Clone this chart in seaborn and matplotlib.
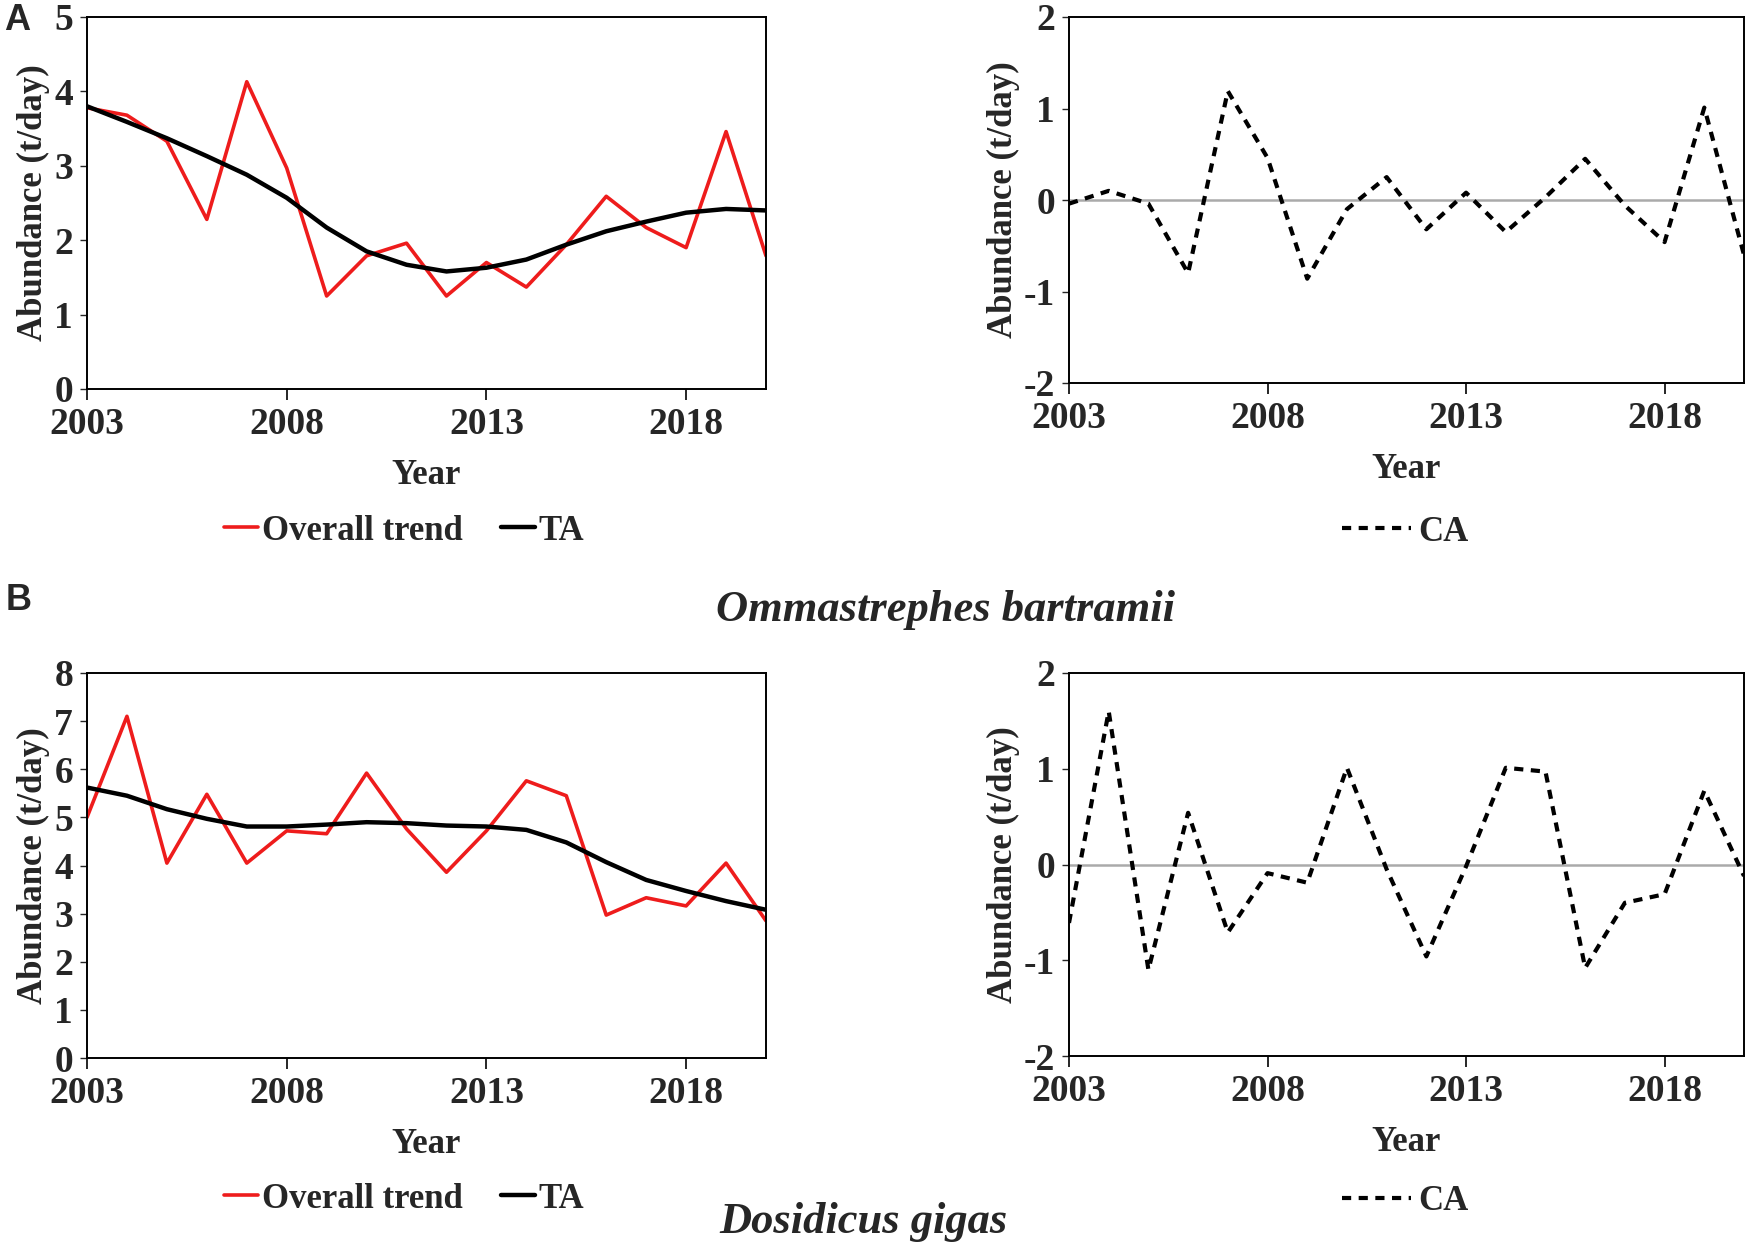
"""Overall trend / TA / CA decomposition of squid abundance, 2003-2020.

Save: out.png
"""
import pandas as pd

import matplotlib
matplotlib.use('Agg')
import matplotlib.pyplot as plt
import seaborn as sns

YEARS = list(range(2003, 2021))

# Ommastrephes bartramii
ob_overall = [3.78, 3.68, 3.33, 2.28, 4.13, 2.97, 1.25, 1.79, 1.96, 1.25,
              1.70, 1.37, 1.94, 2.59, 2.17, 1.90, 3.46, 1.79]
ob_ta = [3.80, 3.59, 3.37, 3.13, 2.88, 2.57, 2.17, 1.85, 1.67, 1.58,
         1.63, 1.74, 1.94, 2.12, 2.25, 2.37, 2.42, 2.40]
ob_ca = [-0.04, 0.10, -0.04, -0.80, 1.19, 0.46, -0.86, -0.10, 0.25, -0.32,
         0.08, -0.35, 0.03, 0.45, -0.06, -0.46, 1.01, -0.60]

# Dosidicus gigas
dg_overall = [5.00, 7.10, 4.05, 5.48, 4.05, 4.72, 4.66, 5.92, 4.76, 3.86,
              4.72, 5.76, 5.45, 2.97, 3.33, 3.16, 4.05, 2.85]
dg_ta = [5.62, 5.45, 5.17, 4.97, 4.81, 4.81, 4.85, 4.90, 4.88, 4.83,
         4.81, 4.74, 4.48, 4.07, 3.70, 3.47, 3.26, 3.08]
dg_ca = [-0.61, 1.60, -1.10, 0.54, -0.71, -0.09, -0.19, 1.01, -0.05, -0.96,
         -0.02, 1.01, 0.97, -1.08, -0.40, -0.31, 0.77, -0.12]

XTICKS = [2003, 2008, 2013, 2018]

sns.set_style('white')
plt.rcParams['font.family'] = ['Liberation Serif', 'DejaVu Serif']
plt.rcParams['font.weight'] = 'bold'
plt.rcParams['axes.unicode_minus'] = False

W, H = 1750, 1252
fig = plt.figure(figsize=(W / 100, H / 100), dpi=100)


def frac(x0, y0, x1, y1):
    # pixel box -> figure fraction rect
    return [x0 / W, 1 - y1 / H, (x1 - x0) / W, (y1 - y0) / H]


def style_axes(ax, ylim, yticks):
    ax.set_xlim(2003, 2020)
    ax.set_ylim(*ylim)
    ax.set_xticks(XTICKS)
    ax.set_xticklabels([str(t) for t in XTICKS])
    ax.set_yticks(yticks)
    ax.set_yticklabels([str(t) for t in yticks])
    for s in ax.spines.values():
        s.set_color('black')
        s.set_linewidth(1.4)
    ax.tick_params(axis='x', direction='out', length=8, width=1.4, labelsize=27, pad=5, bottom=True)
    ax.tick_params(axis='y', direction='out', length=5, width=1.0, labelsize=27, pad=5, left=True)
    ax.set_xlabel('Year', fontsize=25, fontweight='bold', labelpad=12)
    ax.set_ylabel('Abundance (t/day)', fontsize=25, fontweight='bold', labelpad=3)


def trend_panel(rect, overall, ta, ylim, yticks, leg_y):
    ax = fig.add_axes(rect)
    df = pd.DataFrame({'Year': YEARS, 'Overall trend': overall, 'TA': ta})
    sns.lineplot(data=df, x='Year', y='Overall trend', color='#ee1c1c', lw=2.6,
                 ax=ax, label='Overall trend')
    sns.lineplot(data=df, x='Year', y='TA', color='black', lw=3.2, ax=ax, label='TA')
    style_axes(ax, ylim, yticks)
    ax.legend(loc='center', bbox_to_anchor=(404 / W, 1 - leg_y / H),
              bbox_transform=fig.transFigure, ncol=2, frameon=False,
              handlelength=1.0, handletextpad=0.1, columnspacing=1.1,
              prop={'size': 25, 'weight': 'bold'})
    return ax


def ca_panel(rect, ca, yticks, leg_y):
    ax = fig.add_axes(rect)
    ax.axhline(0, color='#aaaaaa', lw=1.8, zorder=1)
    df = pd.DataFrame({'Year': YEARS, 'CA': ca})
    sns.lineplot(data=df, x='Year', y='CA', color='black', lw=3.0, ax=ax, label='CA')
    ax.lines[-1].set_dashes((2.2, 1.8))
    style_axes(ax, (-2, 2), yticks)
    ax.legend(loc='center', bbox_to_anchor=(1405 / W, 1 - leg_y / H),
              bbox_transform=fig.transFigure, ncol=1, frameon=False,
              handlelength=2.0, handletextpad=0.2,
              prop={'size': 25, 'weight': 'bold'})
    return ax


trend_panel(frac(87, 17, 766, 389), ob_overall, ob_ta, (0, 5), [0, 1, 2, 3, 4, 5], 531)
ca_panel(frac(1069, 17, 1744, 383), ob_ca, [-2, -1, 0, 1, 2], 532)
trend_panel(frac(87, 673, 766, 1058), dg_overall, dg_ta, (0, 8), list(range(9)), 1199)
ca_panel(frac(1069, 673, 1744, 1056), dg_ca, [-2, -1, 0, 1, 2], 1202)

fig.text(4 / W, 1 - 20 / H, 'A', family=['Liberation Sans', 'DejaVu Sans'],
         fontsize=26, fontweight='bold', ha='left', va='center')
fig.text(6 / W, 1 - 600 / H, 'B', family=['Liberation Sans', 'DejaVu Sans'],
         fontsize=26, fontweight='bold', ha='left', va='center')
fig.text(946 / W, 1 - 610 / H, 'Ommastrephes bartramii', fontsize=32,
         fontweight='bold', style='italic', ha='center', va='center')
fig.text(863 / W, 1 - 1222 / H, 'Dosidicus gigas', fontsize=32,
         fontweight='bold', style='italic', ha='center', va='center')

fig.savefig('out.png', dpi=100)
plt.close(fig)
